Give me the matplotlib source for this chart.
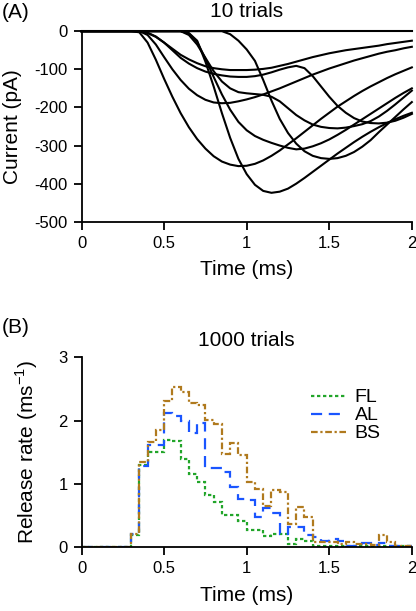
import numpy as np
import matplotlib
matplotlib.use("Agg")
import matplotlib.pyplot as plt

plt.rcParams['font.family'] = ['Liberation Sans', 'DejaVu Sans']
plt.rcParams['axes.unicode_minus'] = False

# ---- panel A: 10 single trials, current (pA) sampled every 0.05 ms ----
t_trace = np.linspace(0, 2, 41)

trial_1 = [0]*13 + [-5, -25, -80, -145, -215, -280, -335, -375, -403, -419, -424, -421,
                    -413, -400, -385, -369, -353, -337, -321, -306, -291, -277, -264, -252,
                    -241, -231, -222, -214]
trial_2 = [0]*7 + [-3, -30, -75, -125, -172, -215, -252, -283, -308, -328, -342, -350, -354,
                   -353, -348, -339, -327, -313, -297, -281, -264, -247, -230, -214, -198,
                   -184, -170, -157, -145, -134, -123, -113, -104, -95]
trial_3 = [0]*13 + [-6, -28, -72, -120, -166, -206, -238, -260, -275, -285, -293, -300,
                    -306, -310, -308, -302, -294, -284, -272, -259, -245, -231, -217, -203,
                    -189, -175, -162, -150]
trial_4 = [0]*18 + [-8, -25, -48, -78, -128, -182, -230, -267, -295, -315, -327, -333,
                    -335, -333, -327, -317, -303, -286, -265, -245, -225, -205, -186]
trial_5 = [0]*8 + [-10, -35, -68, -100, -128, -151, -168, -180, -187, -189, -188, -184,
                   -179, -173, -166, -158, -150, -141, -132, -123, -114, -106, -98, -91,
                   -84, -77, -71, -65, -59, -54, -50, -45, -41]
trial_6 = [0]*13 + [-10, -35, -70, -105, -132, -150, -160, -163, -165, -167, -172, -184,
                    -202, -220, -234, -245, -251, -254, -255, -253, -249, -244, -236, -224,
                    -209, -192, -174, -156]
trial_7 = [0]*41   # no release in this trial
trial_8 = [0]*8 + [-5, -15, -30, -46, -62, -74, -84, -92, -97, -100, -102, -102, -102, -101,
                   -99, -96, -91, -86, -80, -74, -68, -63, -58, -54, -50, -47, -44, -41,
                   -38, -34, -31, -28, -25]
trial_9 = [0]*8 + [-4, -14, -30, -50, -70, -85, -97, -106, -112, -116, -119, -120, -120,
                   -118, -114, -108, -101, -95, -91, -97, -118, -145, -172, -196, -214, -228,
                   -237, -241, -242, -240, -235, -227, -217]
trials = [trial_1, trial_2, trial_3, trial_4, trial_5, trial_6, trial_7, trial_8, trial_9]

# ---- panel B: release rate histograms, 0.05 ms bins ----
bin_edges = np.linspace(0, 2, 41)
rate_fl = [0, 0, 0, 0, 0, 0, 0.2, 1.3, 1.51, 1.51, 1.7, 1.68, 1.4, 1.16, 1.04, 0.83, 0.72,
           0.51, 0.51, 0.41, 0.27, 0.27, 0.18, 0.21, 0.21, 0.06, 0.14, 0.1, 0.02, 0.02,
           0.02, 0.02, 0.02, 0.02, 0.02, 0.02, 0.02, 0.02, 0.02, 0.02]
rate_al = [0, 0, 0, 0, 0, 0, 0.22, 1.28, 1.62, 1.62, 2.12, 2.08, 2.0, 1.8, 1.96, 1.26, 1.26,
           1.19, 0.95, 0.77, 0.75, 0.48, 0.62, 0.55, 0.22, 0.33, 0.33, 0.2, 0.17, 0.1,
           0.13, 0.1, 0.03, 0.02, 0.07, 0.04, 0.07, 0.03, 0.02, 0.02]
rate_bs = [0, 0, 0, 0, 0, 0, 0.22, 1.35, 1.67, 1.85, 2.32, 2.53, 2.46, 2.28, 2.25, 2.02,
           1.95, 1.48, 1.65, 1.46, 1.04, 0.93, 0.65, 0.9, 0.88, 0.37, 0.64, 0.48, 0.09,
           0.09, 0.09, 0.06, 0.09, 0.06, 0.06, 0.04, 0.19, 0.08, 0.03, 0.02]

x_ticks = [0, 0.5, 1, 1.5, 2]
x_ticklabels = ['0', '0.5', '1', '1.5', '2']

fig = plt.figure(figsize=(4.16, 6.11), dpi=100)
ax_a = fig.add_axes([0.196, 0.637, 0.794, 0.312])
ax_b = fig.add_axes([0.196, 0.104, 0.794, 0.311])

for tr in trials:
    ax_a.plot(t_trace, tr, color='black', lw=1.5, clip_on=False)

ax_a.set_xlim(0, 2)
ax_a.set_ylim(-500, 0)
ax_a.set_yticks([0, -100, -200, -300, -400, -500])
ax_a.set_ylabel('Current (pA)', fontsize=15)
ax_a.set_title('10 trials', fontsize=15, pad=10)

ax_b.stairs(rate_fl, bin_edges, color='#22a52a', lw=1.6, linestyle=(0, (1.5, 1.2)), label='FL')
ax_b.stairs(rate_al, bin_edges, color='#1a55ff', lw=1.6, linestyle=(0, (5, 3)), label='AL')
ax_b.stairs(rate_bs, bin_edges, color='#b07a1e', lw=1.6, linestyle=(0, (3, 1.2, 1, 1.2)), label='BS')
ax_b.set_xlim(0, 2)
ax_b.set_ylim(0, 3)
ax_b.set_yticks([0, 1, 2, 3])
ax_b.set_ylabel('Release rate (ms$^{\\mathregular{-1}}$)', fontsize=15)
ax_b.set_title('1000 trials', fontsize=15, pad=8)
ax_b.legend(loc='upper left', frameon=False, fontsize=14, handlelength=1.8,
            handletextpad=0.45, labelspacing=0.02, borderpad=0, borderaxespad=0,
            bbox_to_anchor=(0.695, 0.835))

for ax in (ax_a, ax_b):
    ax.spines['top'].set_visible(False)
    ax.spines['right'].set_visible(False)
    ax.spines['left'].set_linewidth(1.3)
    ax.spines['bottom'].set_linewidth(1.3)
    ax.set_xticks(x_ticks)
    ax.set_xticklabels(x_ticklabels)
    ax.tick_params(direction='out', length=6, width=1.3, labelsize=12, pad=4)
    ax.set_xlabel('Time (ms)', fontsize=15, labelpad=7)

ax_a.yaxis.set_label_coords(-0.18, 0.5)
ax_b.yaxis.set_label_coords(-0.125, 0.5)

fig.text(0.005, 0.995, '(A)', fontsize=15, ha='left', va='top')
fig.text(0.005, 0.48, '(B)', fontsize=15, ha='left', va='top')

fig.savefig('out.png', dpi=100)
